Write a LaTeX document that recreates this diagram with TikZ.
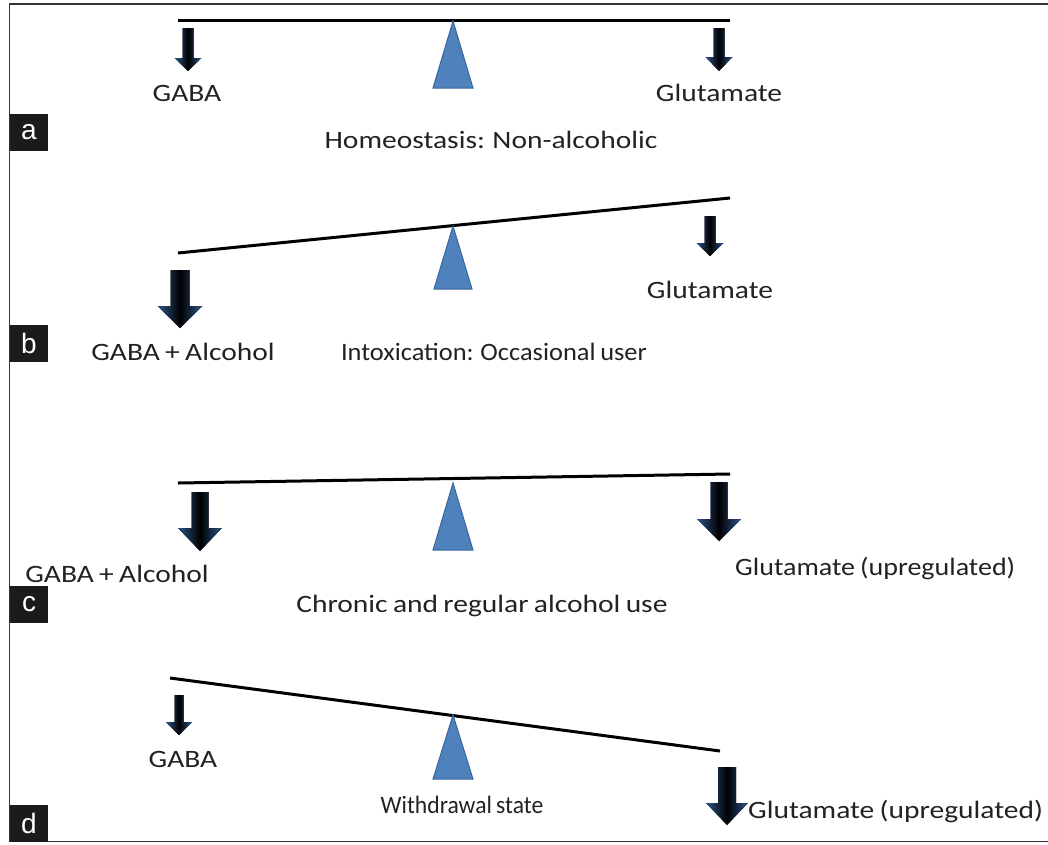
\documentclass[tikz,border=0pt]{standalone}
\usepackage{graphicx}
\usepackage{fontspec}
\setmainfont{Carlito}[FakeStretch=1.18,WordSpace=0.8]
\newfontfamily\tagfont{Liberation Sans}
\definecolor{arrowblue}{HTML}{2E568C}
\definecolor{trifill}{HTML}{4F81BD}
\definecolor{triline}{HTML}{3A679C}
\definecolor{tagbg}{HTML}{1C1A1A}
\definecolor{framegray}{HTML}{333333}
\definecolor{txt}{HTML}{222222}
\newcommand\downarr[6]{% x, top, headstart, tip, shaft half width, head half width
  \fill[shading=axis,left color=arrowblue,right color=arrowblue,middle color=black]
    (#1-#5,#2) -- (#1+#5,#2) -- (#1+#5,#3) -- (#1+#6,#3) -- (#1,#4) -- (#1-#6,#3) -- (#1-#5,#3) -- cycle;}
\tikzset{
  beam/.style={line width=3pt,black},
  fulcrum/.style={fill=trifill,draw=triline,line width=1pt,line join=miter},
  lbl/.style={font=\fontsize{25}{30}\selectfont,text=txt,inner sep=0pt,anchor=base},
  tag/.style={fill=tagbg,text=white,minimum width=38pt,minimum height=37pt,inner sep=0pt,
    font=\tagfont\fontsize{28}{30}\selectfont},
}
\begin{document}
\begin{tikzpicture}[x=1pt,y=-1pt]
\useasboundingbox (0,0) rectangle (1048,844);
% frame
\draw[framegray,line width=1.6pt] (1048,4) -- (9.5,4) -- (9.5,841.5) -- (1048,841.5);

% ---------- panel a ----------
\draw[beam] (178,20) -- (730,20);
\filldraw[fulcrum] (453,21) -- (473,88) -- (433,88) -- cycle;
\downarr{188}{28}{58}{71}{5.5}{13.5}
\downarr{719}{28}{57}{71}{5.5}{13.5}
\node[lbl] (gabaa) at (187,101) {GABA};
\node[lbl] (gluta) at (719,101) {Glutamate};
\node[lbl] (capa) at (491,148) {Homeostasis: Non-alcoholic};
\node[tag] (taga) at (29,132) {a};

% ---------- panel b ----------
\draw[beam] (178,253) -- (730,198);
\filldraw[fulcrum] (453,226) -- (472,289) -- (434,289) -- cycle;
\downarr{180}{270}{306}{328}{9.5}{22.5}
\downarr{710}{216}{243}{256}{5.5}{13.5}
\node[lbl] (glutb) at (710,298) {Glutamate};
\node[lbl] (gabab) at (183,360) {GABA + Alcohol};
\node[lbl] (capb) at (494,360) {\scalebox{0.895}[1]{Intoxication: Occasional user}};
\node[tag] (tagb) at (29,343) {b};

% ---------- panel c ----------
\draw[beam] (178,483) -- (730,474);
\filldraw[fulcrum] (453,483) -- (473,550) -- (433,550) -- cycle;
\downarr{200}{492}{528}{551}{8.5}{22}
\downarr{719}{482}{519}{541}{8.5}{22}
\node[lbl] (gabac) at (117,582) {GABA + Alcohol};
\node[lbl,anchor=base west] (glutc) at (735,575) {\scalebox{0.95}[1]{Glutamate (upregulated)}};
\node[lbl] (capc) at (482,612) {Chronic and regular alcohol use};
\node[tag] (tagc) at (29,604) {c};

% ---------- panel d ----------
\draw[beam] (170,678) -- (720,751);
\filldraw[fulcrum] (453,715) -- (473,779) -- (433,779) -- cycle;
\downarr{179}{695}{722}{735}{4.5}{13}
\downarr{727}{767}{803}{825}{9}{21}
\node[lbl] (gabad) at (183,767) {GABA};
\node[lbl] (capd) at (462,813) {\scalebox{0.8}[1]{Withdrawal state}};
\node[lbl,anchor=base west] (glutd) at (748,818) {Glutamate (upregulated)};
\node[tag] (tagd) at (29,823) {d};
\end{tikzpicture}
\end{document}
